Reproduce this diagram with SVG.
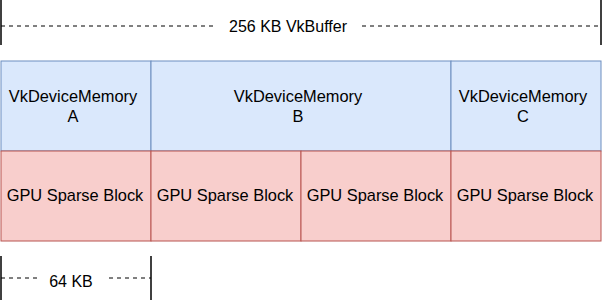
<svg xmlns="http://www.w3.org/2000/svg" width="608" height="305" viewBox="0 0 608 305">
<style>
.mem{fill:#dae8fc;stroke:#6c8ebf;stroke-width:1}
.blk{fill:#f8cecc;stroke:#b85450;stroke-width:1}
.t{font-family:"Liberation Sans",Arial,sans-serif;font-size:16.4px;fill:#000;text-anchor:middle}
.s{font-size:16px}
.tick{stroke:#000;stroke-width:1.5}
.dash{stroke:#000;stroke-width:1;stroke-dasharray:4 4;fill:none}
</style>
<rect width="608" height="305" fill="#fff"/>
<g id="connectors">
<line class="tick" x1="1" y1="0" x2="1" y2="45"/>
<line class="tick" x1="601" y1="0" x2="601" y2="45"/>
<line class="dash" x1="1" y1="26" x2="216" y2="26"/>
<line class="dash" x1="362" y1="26" x2="601" y2="26"/>
<line class="tick" x1="1" y1="256" x2="1" y2="300"/>
<line class="tick" x1="151" y1="256" x2="151" y2="300"/>
<line class="dash" x1="1" y1="278" x2="37" y2="278"/>
<line class="dash" x1="109" y1="278" x2="151" y2="278"/>
</g>
<g id="label-buffer"><text class="t s" x="288" y="32">256 KB VkBuffer</text></g>
<g id="label-64kb"><text class="t s" x="71" y="287">64 KB</text></g>
<g id="memA"><rect class="mem" x="1" y="61" width="150" height="90"/><text class="t" x="73" y="102">VkDeviceMemory</text><text class="t" x="73" y="122">A</text></g>
<g id="memB"><rect class="mem" x="151" y="61" width="300" height="90"/><text class="t" x="298" y="102">VkDeviceMemory</text><text class="t" x="298" y="122">B</text></g>
<g id="memC"><rect class="mem" x="451" y="61" width="150" height="90"/><text class="t" x="523" y="102">VkDeviceMemory</text><text class="t" x="523" y="122">C</text></g>
<g id="blk1"><rect class="blk" x="1" y="151" width="150" height="90"/><text class="t" x="75" y="201">GPU Sparse Block</text></g>
<g id="blk2"><rect class="blk" x="151" y="151" width="150" height="90"/><text class="t" x="225" y="201">GPU Sparse Block</text></g>
<g id="blk3"><rect class="blk" x="301" y="151" width="150" height="90"/><text class="t" x="375" y="201">GPU Sparse Block</text></g>
<g id="blk4"><rect class="blk" x="451" y="151" width="150" height="90"/><text class="t" x="525" y="201">GPU Sparse Block</text></g>
</svg>
